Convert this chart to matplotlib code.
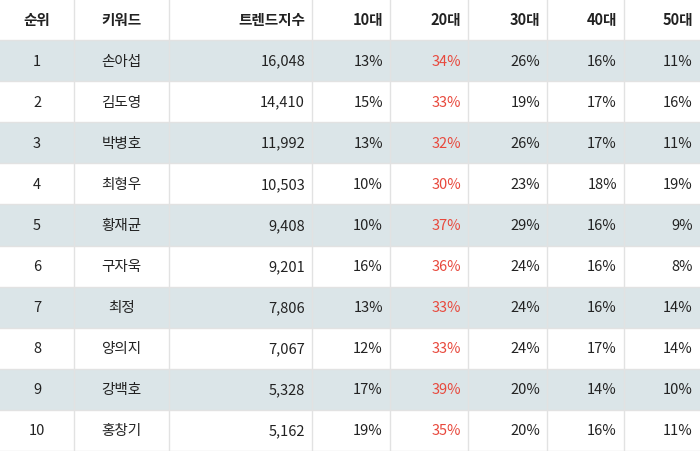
import matplotlib
matplotlib.use("Agg")
import matplotlib.pyplot as plt
from matplotlib.patches import Rectangle
from matplotlib import font_manager

cjk = [f.name for f in font_manager.fontManager.ttflist if "CJK" in f.name]
fams = []
for n in ["Noto Sans CJK KR", "Noto Sans CJK JP", "Noto Sans CJK SC"] + cjk:
    if n in cjk and n not in fams:
        fams.append(n)
plt.rcParams["font.family"] = fams + ["DejaVu Sans"]

headers = ["순위", "키워드", "트렌드지수", "10대", "20대", "30대", "40대", "50대"]
ranks = [1, 2, 3, 4, 5, 6, 7, 8, 9, 10]
keywords = ["손아섭", "김도영", "박병호", "최형우", "황재균", "구자욱", "최정", "양의지", "강백호", "홍창기"]
trend = [16048, 14410, 11992, 10503, 9408, 9201, 7806, 7067, 5328, 5162]
age10 = [13, 15, 13, 10, 10, 16, 13, 12, 17, 19]
age20 = [34, 33, 32, 30, 37, 36, 33, 33, 39, 35]
age30 = [26, 19, 26, 23, 29, 24, 24, 24, 20, 20]
age40 = [16, 17, 17, 18, 16, 16, 16, 17, 14, 16]
age50 = [11, 16, 11, 19, 9, 8, 14, 14, 10, 11]

W, H = 700, 452
fig = plt.figure(figsize=(7, 4.52), dpi=100)
ax = fig.add_axes([0, 0, 1, 1])
ax.set_xlim(0, W)
ax.set_ylim(H, 0)
ax.axis("off")

bounds = [0, 74, 169, 312, 390, 468, 547, 624, 700]
header_h = 41
row_h = (H - header_h) / len(ranks)
grid = "#e2e2e2"
band = "#dbe5e8"
pad = 7

for i in range(len(ranks)):
    if i % 2 == 0:
        ax.add_patch(Rectangle((0, header_h + i * row_h), W, row_h, color=band, lw=0))
for i in range(len(ranks) + 1):
    y = header_h + i * row_h
    ax.plot([0, W], [y, y], color=grid, lw=1)
for x in bounds[1:-1]:
    ax.plot([x, x], [0, H], color=grid, lw=1)

def cell(col, y, text, color="#222222", bold=False):
    l, r = bounds[col], bounds[col + 1]
    if col <= 1:
        x, ha = (l + r) / 2, "center"
    else:
        x, ha = r - pad, "right"
    ax.text(x, y, text, ha=ha, va="center", fontsize=10.5, color=color,
            fontweight="bold" if bold else "normal")

for c, h in enumerate(headers):
    cell(c, header_h / 2, h, bold=True)

for i in range(len(ranks)):
    y = header_h + (i + 0.5) * row_h
    cell(0, y, str(ranks[i]))
    cell(1, y, keywords[i])
    cell(2, y, f"{trend[i]:,}")
    cell(3, y, f"{age10[i]}%")
    cell(4, y, f"{age20[i]}%", color="#e8483c")
    cell(5, y, f"{age30[i]}%")
    cell(6, y, f"{age40[i]}%")
    cell(7, y, f"{age50[i]}%")

fig.savefig("out.png", dpi=100)
